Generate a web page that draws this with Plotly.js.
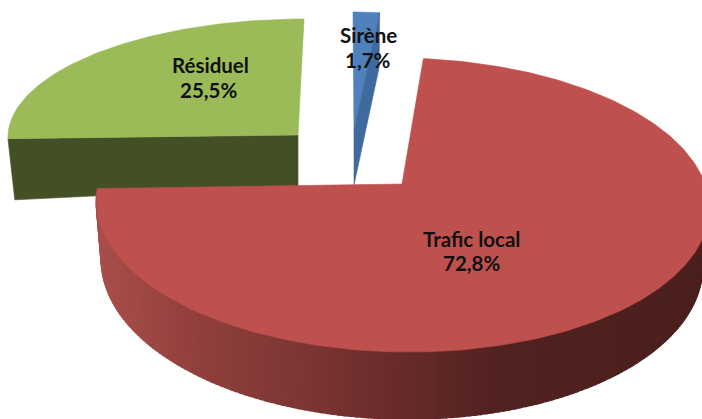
<!DOCTYPE html>
<html>
<head>
<meta charset="utf-8">
<script src="https://cdn.plot.ly/plotly-3.0.1.min.js"></script>
<style>html,body{margin:0;padding:0;background:#fff;overflow:hidden}#chart{width:702px;height:419px}</style>
</head>
<body>
<div id="chart"></div>
<script>
// Data
const categories = ["Sirène", "Trafic local", "Résiduel"];
const shares = [1.7, 72.8, 25.5];
const faceColors = ["#4F81BD", "#BE504D", "#9BBB59"];
const sideColors = ["#3F6AA0", "#4B1F1D", "#434F24"];
// Shading of the curved red wall, left to right across the chart
const shadeStops = [97, 200, 300, 400, 500, 702];
const shadeRGB = [[168,78,74],[144,63,60],[125,54,52],[103,43,42],[81,34,32],[75,31,29]];

// Exploded-slice view geometry (centre, radii, perspective, wall height)
const views = [
  {ax:354, ay:130, rx:250, ry:118, p:0,    shear:-1,  h:55, tilt:0},
  {ax:402, ay:184, rx:303, ry:144, p:0.143,shear:-7,  h:57, tilt:0},
  {ax:298, ay:135, rx:290, ry:116, p:0,    shear:6,   h:51, tilt:0.2}
];
const vanishX = 350, wallShrink = 0.02;

function rim(v, deg){
  const t = deg*Math.PI/180, X = Math.sin(t), Y = Math.cos(t), k = 1/(1+v.p*Y);
  return [v.ax + v.rx*X*k + v.shear*Y, v.ay - v.ry*Y*k, k, X];
}
function below(v, pt, X, k){
  const h = v.h*k*(1 + v.tilt*Math.abs(X));
  return [pt[0] + (vanishX-pt[0])*wallShrink, pt[1] + h];
}
function arc(v, a0, a1){
  const pts = [], n = Math.max(4, Math.ceil(Math.abs(a1-a0)));
  for(let i=0;i<=n;i++) pts.push(rim(v, a0+(a1-a0)*i/n));
  return pts;
}
function poly(pts, color, w){
  const xs = pts.map(p=>p[0]).concat([pts[0][0]]), ys = pts.map(p=>p[1]).concat([pts[0][1]]);
  return {type:"scatter", mode:"lines", x:xs, y:ys, fill:"toself", fillcolor:color,
          line:{color:color, width:w===undefined?0.6:w}, hoverinfo:"skip", showlegend:false};
}
function shade(x){
  let i = 0; while(i < shadeStops.length-2 && x > shadeStops[i+1]) i++;
  const f = Math.min(1, Math.max(0, (x-shadeStops[i])/(shadeStops[i+1]-shadeStops[i])));
  const c = shadeRGB[i].map((a,j)=>Math.round(a+(shadeRGB[i+1][j]-a)*f));
  return `rgb(${c[0]},${c[1]},${c[2]})`;
}

// Slice angles from the values, clockwise from the top
const angles = []; let run = 0;
const total = shares.reduce((a,b)=>a+b,0);
shares.forEach(s=>{ angles.push([run/total*360, (run+s)/total*360]); run += s; });

const traces = [];
// Sirène
(function(){
  const v = views[0], [a0,a1] = angles[0], apex = [v.ax, v.ay];
  const r1 = rim(v,a1);
  const apexLow = [apex[0], apex[1]+v.h];
  const rimLow = below(v, r1, r1[3], r1[2]);
  traces.push(poly([apex].concat(arc(v,a0,a1)), faceColors[0]));
  traces.push(poly([apex, r1, rimLow, apexLow], sideColors[0]));
})();
// Résiduel
(function(){
  const v = views[2], [a0,a1] = angles[2], apex = [v.ax, v.ay];
  const r0 = rim(v,a0);
  traces.push(poly([apex, r0, below(v,r0,r0[3],r0[2]), [apex[0],apex[1]+v.h]], sideColors[2]));
  traces.push(poly([apex].concat(arc(v,a0,a1)), faceColors[2]));
})();
// Trafic local: curved wall then face
(function(){
  const v = views[1], [a0,a1] = angles[1], apex = [v.ax, v.ay];
  const pts = arc(v, 100, a1);
  for(let i=0;i<pts.length-1;i++){
    const a = pts[i], b = pts[i+1];
    const aL = below(v,a,a[3],a[2]), bL = below(v,b,b[3],b[2]);
    traces.push(poly([a,b,bL,aL], shade((a[0]+b[0])/2), 2.5));
  }
  traces.push(poly([apex].concat(arc(v,a0,a1)), faceColors[1]));
})();

// Labels: name line and value line
const namePos = [[368,35],[471,239],[210,65]];
const valuePos = [[368,60],[471,263],[208,90]];
const labelFont = {family:"Lato, sans-serif", size:20.5, color:"#111111", weight:700};
const annotations = [];
categories.forEach((c,i)=>{
  annotations.push({x:namePos[i][0], y:namePos[i][1], xref:"x", yref:"y", showarrow:false, text:c, font:labelFont});
  annotations.push({x:valuePos[i][0], y:valuePos[i][1], xref:"x", yref:"y", showarrow:false,
    text:shares[i].toFixed(1).replace(".",",")+"%", font:labelFont});
});

Plotly.newPlot("chart", traces, {
  width:702, height:419, margin:{l:0,r:0,t:0,b:0},
  paper_bgcolor:"#ffffff", plot_bgcolor:"#ffffff", showlegend:false,
  xaxis:{range:[0,702], visible:false, fixedrange:true},
  yaxis:{range:[419,0], visible:false, fixedrange:true},
  annotations:annotations, hovermode:false
}, {displayModeBar:false, staticPlot:true});
</script>
</body>
</html>
